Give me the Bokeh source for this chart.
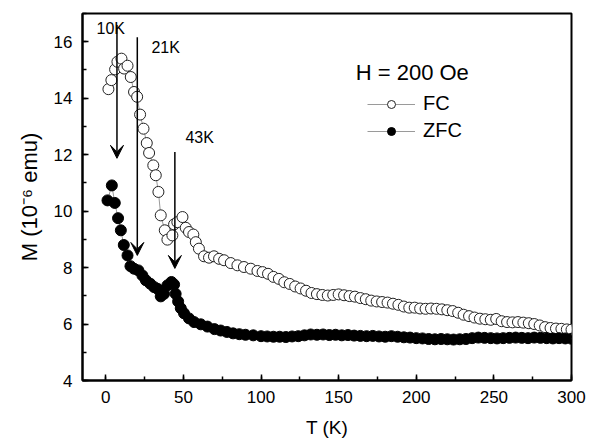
from bokeh.plotting import figure
from bokeh.models import (Arrow, VeeHead, Label, Legend, LegendItem,
                          SingleIntervalTicker, Range1d)
from bokeh.embed import file_html
from bokeh.resources import INLINE

# ---------------- data ----------------
fc_T = [1.7, 3.6, 6.0, 7.5, 10.1, 11.8, 14.0, 16.1, 18.2, 20.2, 22.1, 24.3,
        26.4, 27.9, 30.6, 32.2, 33.9, 35.4, 38.0, 39.7, 42.9, 44.0, 46.1,
        49.4, 51.5, 53.6, 56.4, 58.0, 60.0, 63.3, 66.5, 69.7, 73.0, 76.2,
        80.5, 84.8, 89.0, 93.4, 97.7, 101, 104.5, 108, 111.5, 115, 118.5,
        122, 125.5, 129, 132.5, 136, 139.5, 143, 146.5, 150, 153.5, 157,
        160.5, 164, 167.5, 171, 174.5, 178, 181.5, 185, 188.5, 192, 195.5,
        199, 202.5, 206, 209.5, 213, 216.5, 220, 223.5, 227, 230.5, 234,
        237.5, 241, 244.5, 248, 251.5, 255, 258.5, 262, 265.5, 269, 272.5,
        276, 279.5, 283, 286.5, 290, 293.5, 297, 300]
fc_M = [14.32, 14.64, 15.02, 15.29, 15.40, 15.05, 15.15, 14.75, 14.22, 14.05,
        13.42, 12.92, 12.41, 12.06, 11.62, 11.27, 10.68, 9.85, 9.32, 8.99,
        9.14, 9.53, 9.61, 9.79, 9.41, 9.26, 9.17, 8.90, 8.67, 8.40, 8.35,
        8.40, 8.31, 8.26, 8.16, 8.08, 8.02, 7.96, 7.88, 7.84, 7.78, 7.67,
        7.60, 7.48, 7.42, 7.33, 7.26, 7.18, 7.10, 7.06, 7.03, 7.01, 7.03,
        7.05, 7.02, 6.99, 6.97, 6.92, 6.88, 6.83, 6.80, 6.78, 6.76, 6.72,
        6.68, 6.62, 6.58, 6.58, 6.55, 6.54, 6.55, 6.54, 6.52, 6.49, 6.46,
        6.40, 6.33, 6.28, 6.23, 6.19, 6.17, 6.15, 6.18, 6.10, 6.07, 6.06,
        6.07, 6.05, 6.03, 6.00, 5.95, 5.89, 5.86, 5.84, 5.83, 5.81, 5.80]

zfc_T = [1.1, 3.9, 5.8, 7.9, 9.7, 11.6, 14.0, 15.9, 18.2, 21.0, 23.6, 25.8,
         28.6, 31.1, 33.3, 35.4, 37.5, 39.7, 42.3, 44.0, 45.0, 46.6, 48.3,
         50.4, 53.6, 56.9, 61.2, 65.5, 70, 74, 78, 82, 86, 90, 95, 100, 104,
         108, 112, 116, 120, 124, 128, 132, 136, 140, 144, 148, 152, 156,
         160, 164, 168, 172, 176, 180, 184, 188, 192, 196, 200, 204, 208,
         212, 216, 220, 224, 228, 232, 236, 240, 244, 248, 252, 256, 260,
         264, 268, 272, 276, 280, 284, 288, 292, 296, 300]
zfc_M = [10.38, 10.91, 10.29, 9.75, 9.32, 8.80, 8.43, 8.05, 7.96, 7.90, 7.72,
         7.55, 7.43, 7.31, 7.25, 6.98, 7.07, 7.37, 7.49, 7.40, 7.07, 6.80,
         6.56, 6.38, 6.20, 6.07, 5.99, 5.91, 5.82, 5.77, 5.72, 5.67, 5.64,
         5.62, 5.60, 5.57, 5.56, 5.55, 5.55, 5.54, 5.56, 5.57, 5.60, 5.63,
         5.62, 5.63, 5.61, 5.62, 5.60, 5.61, 5.59, 5.58, 5.57, 5.58, 5.56,
         5.55, 5.57, 5.55, 5.53, 5.52, 5.50, 5.49, 5.47, 5.46, 5.47, 5.46,
         5.45, 5.46, 5.47, 5.50, 5.52, 5.51, 5.50, 5.49, 5.50, 5.51, 5.52,
         5.51, 5.50, 5.52, 5.51, 5.50, 5.49, 5.50, 5.49, 5.48]

arrow_labels = ["10K", "21K", "43K"]
arrow_T = [7.2, 20.3, 44.5]
arrow_top = [16.59, 16.16, 12.09]
arrow_tip = [11.87, 8.43, 7.97]
label_T = [3.2, 38.6, 60.5]
label_M = [16.48, 15.81, 12.62]

FONT = "Liberation Sans"

p = figure(width=596, height=442, x_range=Range1d(-15, 300), y_range=Range1d(4, 17),
           output_backend="svg", toolbar_location=None,
           min_border_left=82, min_border_right=25, min_border_top=13, min_border_bottom=62)
p.xgrid.visible = False
p.ygrid.visible = False
p.outline_line_color = "black"
p.outline_line_width = 2

p.xaxis.ticker = SingleIntervalTicker(interval=50, num_minor_ticks=2)
p.yaxis.ticker = SingleIntervalTicker(interval=2, num_minor_ticks=2)
p.axis.axis_line_color = "black"
p.axis.axis_line_width = 2
p.axis.major_tick_in = 6
p.axis.major_tick_out = 0
p.axis.minor_tick_in = 4
p.axis.minor_tick_out = 0
p.axis.major_tick_line_width = 1.5
p.axis.minor_tick_line_width = 1.5
p.axis.major_tick_line_color = "black"
p.axis.minor_tick_line_color = "black"
p.axis.major_label_text_font = FONT
p.axis.major_label_text_font_size = "17px"
p.axis.major_label_text_color = "black"
p.axis.axis_label_text_font = FONT
p.axis.axis_label_text_font_style = "normal"
p.axis.axis_label_text_color = "black"

p.xaxis.axis_label = "T (K)"
p.xaxis.axis_label_text_font_size = "19px"
p.xaxis.major_label_standoff = 10
p.xaxis.axis_label_standoff = 11
p.yaxis.axis_label = "M (10\u207b\u2076 emu)"
p.yaxis.axis_label_text_font_size = "22px"
p.yaxis.major_label_standoff = 10
p.yaxis.axis_label_standoff = 9

fc_line = p.line(fc_T, fc_M, line_color="#9a9a9a", line_width=1)
fc_pts = p.scatter(fc_T, fc_M, marker="circle", size=11, fill_color="white",
                   line_color="#222222", line_width=1)
zfc_line = p.line(zfc_T, zfc_M, line_color="#9a9a9a", line_width=1)
zfc_pts = p.scatter(zfc_T, zfc_M, marker="circle", size=11, fill_color="black",
                    line_color="black", line_width=1)

for t, top, tip in zip(arrow_T, arrow_top, arrow_tip):
    p.add_layout(Arrow(x_start=t, y_start=top, x_end=t, y_end=tip,
                       line_color="black", line_width=1.5,
                       end=VeeHead(size=13, fill_color="black", line_color="black")))
for lab, t, m in zip(arrow_labels, label_T, label_M):
    p.add_layout(Label(x=t, y=m, text=lab, text_font=FONT, text_font_size="16px",
                       text_align="center", text_baseline="middle", text_color="black"))

p.add_layout(Label(x=161, y=14.92, text="H = 200 Oe", text_font=FONT,
                   text_font_size="22px", text_align="left", text_baseline="middle",
                   text_color="black"))

legend = Legend(items=[LegendItem(label="FC", renderers=[fc_line, fc_pts]),
                       LegendItem(label="ZFC", renderers=[zfc_line, zfc_pts])],
                location=(285, 238), padding=0, margin=0, spacing=4,
                glyph_width=48, glyph_height=20, label_height=20, label_standoff=8,
                label_text_font=FONT, label_text_font_size="20px",
                label_text_color="black", border_line_color=None,
                background_fill_alpha=0)
p.add_layout(legend)

open("out.html", "w").write(file_html(p, INLINE))
